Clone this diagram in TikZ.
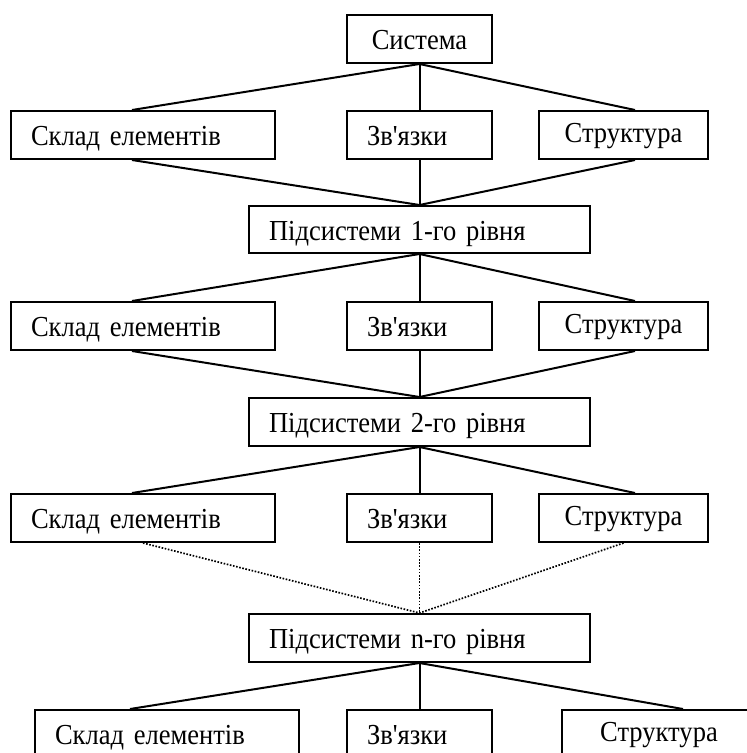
\documentclass[tikz,border=0pt]{standalone}
\usepackage{fontspec}
\setmainfont{Liberation Serif}[Ligatures=TeXOff, FakeStretch=0.915]
\usetikzlibrary{calc}
\begin{document}
\begin{tikzpicture}[x=1pt,y=-1pt,
  box/.style={draw, line width=2pt, inner xsep=20pt, inner ysep=0pt,
    minimum height=48pt, text height=21pt, text depth=0pt,
    font=\fontsize{29}{33}\selectfont},
  lbox/.style={box, minimum width=#1, text width=#1-40pt, align=left},
  cbox/.style={box, minimum width=#1, text width=#1-40pt, align=center, text height=14pt},
  link/.style={line width=2pt},
  dotlink/.style={line width=1.7pt, dash pattern=on 1.6pt off 1.6pt}]
\useasboundingbox (0,0) rectangle (747,753);
\clip (0,0) rectangle (747,753);
\fill[white] (0,0) rectangle (747,753);

% top level
\node[cbox=145pt, text height=21pt] (sys) at (419.5,39) {Система};

% first level
\node[lbox=264pt] (skl1) at (143,135) {Склад елементів};
\node[lbox=145pt] (zv1) at (419.5,135) {Зв'язки};
\node[cbox=169pt] (str1) at (623.5,135) {Структура};
\node[lbox=341pt, minimum height=47pt] (p1) at (419.5,229.5) {Підсистеми 1-го рівня};

% second level
\node[lbox=264pt] (skl2) at (143,326) {Склад елементів};
\node[lbox=145pt] (zv2) at (419.5,326) {Зв'язки};
\node[cbox=169pt] (str2) at (623.5,326) {Структура};
\node[lbox=341pt] (p2) at (419.5,422) {Підсистеми 2-го рівня};

% third level
\node[lbox=264pt] (skl3) at (143,518) {Склад елементів};
\node[lbox=145pt] (zv3) at (419.5,518) {Зв'язки};
\node[cbox=169pt] (str3) at (623.5,518) {Структура};
\node[lbox=341pt] (pn) at (419.5,638) {Підсистеми n-го рівня};

% last level
\node[lbox=264pt] (skl4) at (167,734) {Склад елементів};
\node[lbox=145pt] (zv4) at (419.5,734) {Зв'язки};
\node[cbox=194pt] (str4) at (659,734) {Структура};

% system -> first level -> subsystems 1
\draw[link] (sys.south) -- ([xshift=-11pt]skl1.north);
\draw[link] (sys.south) -- (zv1.north);
\draw[link] (sys.south) -- ([xshift=11.5pt]str1.north);
\draw[link] ([xshift=-11pt]skl1.south) -- (p1.north);
\draw[link] (zv1.south) -- (p1.north);
\draw[link] ([xshift=11.5pt]str1.south) -- (p1.north);

% subsystems 1 -> second level -> subsystems 2
\draw[link] (p1.south) -- ([xshift=-11pt]skl2.north);
\draw[link] (p1.south) -- (zv2.north);
\draw[link] (p1.south) -- ([xshift=11.5pt]str2.north);
\draw[link] ([xshift=-11pt]skl2.south) -- (p2.north);
\draw[link] (zv2.south) -- (p2.north);
\draw[link] ([xshift=11.5pt]str2.south) -- (p2.north);

% subsystems 2 -> third level
\draw[link] (p2.south) -- ([xshift=-11pt]skl3.north);
\draw[link] (p2.south) -- (zv3.north);
\draw[link] (p2.south) -- ([xshift=11.5pt]str3.north);

% omitted intermediate levels
\draw[dotlink] (skl3.south) -- (pn.north);
\draw[dotlink] (zv3.south) -- (pn.north);
\draw[dotlink] (str3.south) -- (pn.north);

% subsystems n -> last level
\draw[link] (pn.south) -- ([xshift=-37pt]skl4.north);
\draw[link] (pn.south) -- (zv4.north);
\draw[link] (pn.south) -- ([xshift=24pt]str4.north);
\end{tikzpicture}
\end{document}
